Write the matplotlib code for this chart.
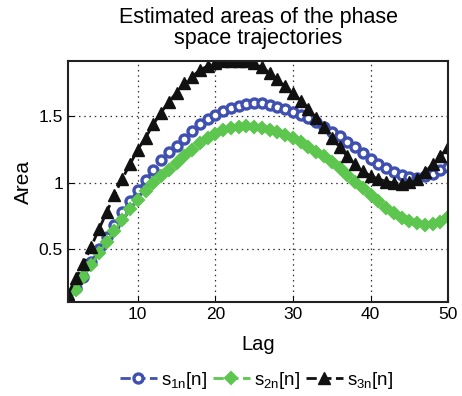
import matplotlib
matplotlib.use("Agg")
import matplotlib.pyplot as plt
import numpy as np

plt.rcParams['font.family'] = ['Liberation Sans', 'DejaVu Sans']

lags = list(range(1, 51))
s1 = [0.12, 0.205, 0.29, 0.40, 0.50, 0.59, 0.68, 0.78, 0.86, 0.945,
      1.02, 1.10, 1.17, 1.23, 1.28, 1.33, 1.39, 1.44, 1.48, 1.515,
      1.545, 1.565, 1.58, 1.595, 1.60, 1.60, 1.59, 1.575, 1.56, 1.535,
      1.515, 1.49, 1.46, 1.42, 1.385, 1.35, 1.31, 1.27, 1.225, 1.18,
      1.145, 1.11, 1.08, 1.06, 1.045, 1.04, 1.05, 1.07, 1.095, 1.12]
s2 = [0.10, 0.19, 0.29, 0.38, 0.47, 0.555, 0.64, 0.72, 0.80, 0.87,
      0.94, 1.00, 1.05, 1.10, 1.15, 1.20, 1.25, 1.30, 1.34, 1.37,
      1.395, 1.41, 1.42, 1.425, 1.42, 1.41, 1.395, 1.38, 1.36, 1.335,
      1.31, 1.27, 1.235, 1.20, 1.16, 1.11, 1.06, 1.01, 0.96, 0.91,
      0.86, 0.81, 0.77, 0.735, 0.71, 0.695, 0.685, 0.69, 0.705, 0.74]
s3 = [0.16, 0.28, 0.39, 0.52, 0.65, 0.78, 0.91, 1.03, 1.14, 1.25,
      1.34, 1.44, 1.53, 1.61, 1.68, 1.75, 1.80, 1.85, 1.88, 1.905,
      1.915, 1.92, 1.92, 1.915, 1.90, 1.87, 1.83, 1.78, 1.73, 1.68,
      1.62, 1.56, 1.49, 1.42, 1.34, 1.27, 1.20, 1.14, 1.09, 1.05,
      1.03, 1.01, 1.00, 0.995, 1.005, 1.03, 1.08, 1.14, 1.20, 1.27]
labels = [r'$\mathregular{s_{1n}}$[n]', r'$\mathregular{s_{2n}}$[n]', r'$\mathregular{s_{3n}}$[n]']
xticks = [10, 20, 30, 40, 50]
yticks = [0.5, 1, 1.5]

blue = '#3f50b0'
green = '#5cc64e'
black = '#111111'

fig = plt.figure(figsize=(4.62, 3.96), dpi=100)
ax = fig.add_axes([0.147, 0.2366, 0.823, 0.61])

ax.plot(lags, s1, linestyle='--', color=blue, marker='o', markersize=6.5,
        markerfacecolor='white', markeredgewidth=2.4, linewidth=2, label=labels[0])
ax.plot(lags, s2, linestyle='--', color=green, marker='D', markersize=6.5,
        markerfacecolor=green, markeredgewidth=1.5, linewidth=2, label=labels[1])
ax.plot(lags, s3, linestyle='--', color=black, marker='^', markersize=8.5,
        markerfacecolor=black, markeredgewidth=1, linewidth=2, label=labels[2])

ymin = min(min(s1), min(s2), min(s3))
ymax = max(max(s1), max(s2), max(s3))
ax.set_xlim(1, 50)
ax.set_ylim(ymin, ymax)
ax.set_xticks(xticks)
ax.set_yticks(yticks)
ax.set_yticklabels(['0.5', '1', '1.5'])
ax.grid(True, linestyle=(0, (1.2, 3)), color='#333333', linewidth=0.9)
ax.tick_params(direction='in', labelsize=12.5, length=4)
for sp in ax.spines.values():
    sp.set_linewidth(1.5)
    sp.set_color('#222222')

ax.set_xlabel('Lag', fontsize=14.5, labelpad=9)
ax.set_ylabel('Area', fontsize=15, labelpad=4)
ax.set_title('Estimated areas of the phase\nspace trajectories', fontsize=15.5, linespacing=1.0, pad=12)

fig.legend(loc='lower center', bbox_to_anchor=(0.555, -0.03), ncol=3, frameon=False,
           fontsize=13.5, handlelength=2.0, handletextpad=0.2, columnspacing=0.3)

fig.savefig('out.png', dpi=100)
